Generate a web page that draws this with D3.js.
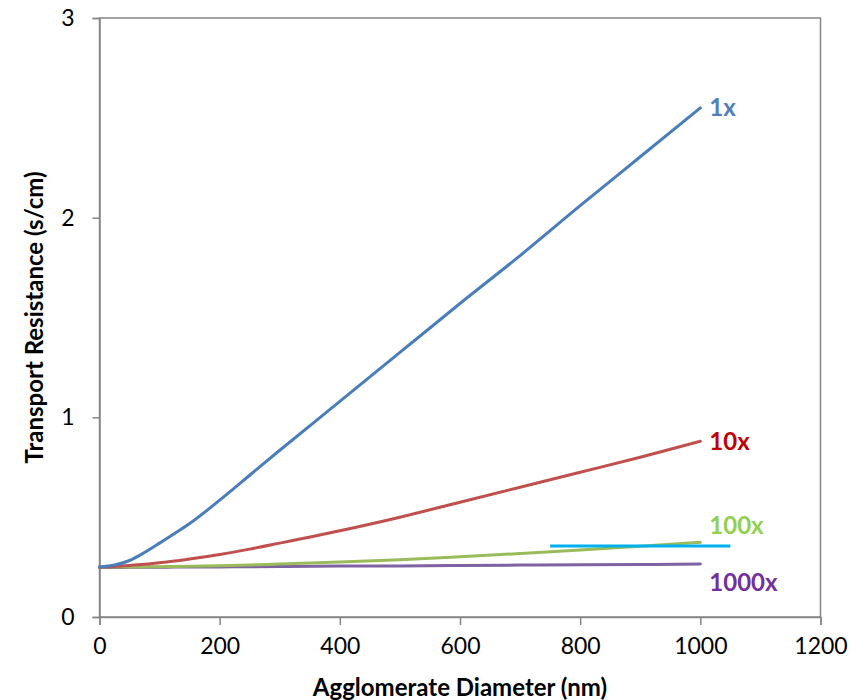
<!DOCTYPE html>
<html><head><meta charset="utf-8">
<script src="https://cdn.jsdelivr.net/npm/d3@7"></script>
<style>body{margin:0;background:#fff}svg{display:block}text{font-family:Lato,"Open Sans",sans-serif}</style>
</head><body><svg id="c" width="860" height="700"></svg>
<script>
const diam = [0, 25, 50, 75, 100, 125, 150, 200, 250, 300, 400, 500, 600, 700, 800, 900, 1000];
const r1x   = [0.25,0.26,0.283,0.323,0.37,0.418,0.468,0.585,0.71,0.835,1.08,1.325,1.57,1.81,2.06,2.305,2.55];
const r10x  = [0.25,0.253,0.258,0.264,0.272,0.28,0.29,0.313,0.34,0.37,0.432,0.50,0.575,0.65,0.725,0.80,0.88];
const r100x = [0.25,0.25,0.251,0.251,0.252,0.253,0.254,0.257,0.261,0.265,0.275,0.287,0.302,0.318,0.335,0.354,0.374];
const r1000x= [0.248,0.248,0.249,0.249,0.249,0.25,0.25,0.251,0.252,0.253,0.255,0.256,0.258,0.26,0.262,0.263,0.265];
const refX = [750, 1050];
const refY = [0.355, 0.355];
const seriesNames = ["1x","10x","100x","1000x"];
const xTicks = [0,200,400,600,800,1000,1200];
const yTicks = [0,1,2,3];

const svg = d3.select("#c");
const m = {l:99.5, r:820.5, t:18, b:617};
const x = d3.scaleLinear().domain([0,1200]).range([m.l, m.r]);
const y = d3.scaleLinear().domain([0,3]).range([m.b, m.t]);
const axisCol = "#868686";

svg.append("rect").attr("x",m.l).attr("y",m.t).attr("width",m.r-m.l).attr("height",m.b-m.t)
  .attr("fill","none").attr("stroke",axisCol).attr("stroke-width",1.5);

const gx = svg.append("g").attr("transform",`translate(0,${m.b})`)
  .call(d3.axisBottom(x).tickValues(xTicks).tickSize(8).tickPadding(13).tickFormat(d3.format("d")));
const gy = svg.append("g").attr("transform",`translate(${m.l},0)`)
  .call(d3.axisLeft(y).tickValues(yTicks).tickSize(7).tickPadding(18).tickFormat(d3.format("d")));
[gx,gy].forEach(g=>{
  g.select(".domain").attr("stroke",axisCol).attr("stroke-width",1.5);
  g.selectAll(".tick line").attr("stroke",axisCol).attr("stroke-width",1.5);
  g.selectAll(".tick text").attr("fill","#000").style("font-size","23px").style("font-family","Lato");
});

const line = d3.line().x(d=>x(d[0])).y(d=>y(d[1])).curve(d3.curveMonotoneX);
const series = [
  {name:seriesNames[3], vals:r1000x, col:"#7E62A1"},
  {name:seriesNames[2], vals:r100x, col:"#9ABB59"},
  {name:seriesNames[1], vals:r10x, col:"#C0504D"},
  {name:seriesNames[0], vals:r1x, col:"#4A7EBB"},
];
series.forEach(s=>{
  svg.append("path").attr("d", line(diam.map((d,i)=>[d,s.vals[i]])))
    .attr("fill","none").attr("stroke",s.col).attr("stroke-width",3).attr("stroke-linecap","round");
});
svg.append("path").attr("d", d3.line().x(d=>x(d[0])).y(d=>y(d[1]))(refX.map((d,i)=>[d,refY[i]])))
  .attr("fill","none").attr("stroke","#00B0F0").attr("stroke-width",3);

const labels = [
  {t:seriesNames[0], v:2.55, col:"#4F81BD"},
  {t:seriesNames[1], v:0.88, col:"#C00000"},
  {t:seriesNames[2], v:0.46, col:"#92D050"},
  {t:seriesNames[3], v:0.175, col:"#7030A0"},
];
labels.forEach(l=>{
  svg.append("text").attr("x", x(1000)+9).attr("y", y(l.v)).attr("dy","0.36em")
    .attr("fill",l.col).style("font-size","24px").style("font-weight","bold").text(l.t);
});

svg.append("text").attr("x",(m.l+m.r)/2).attr("y",696).attr("text-anchor","middle")
  .style("font-size","24px").style("font-weight","bold").text("Agglomerate Diameter (nm)");
svg.append("text").attr("transform",`translate(43,${(m.t+m.b)/2}) rotate(-90)`).attr("text-anchor","middle")
  .style("font-size","24px").style("font-weight","bold").text("Transport Resistance (s/cm)");
</script></body></html>
